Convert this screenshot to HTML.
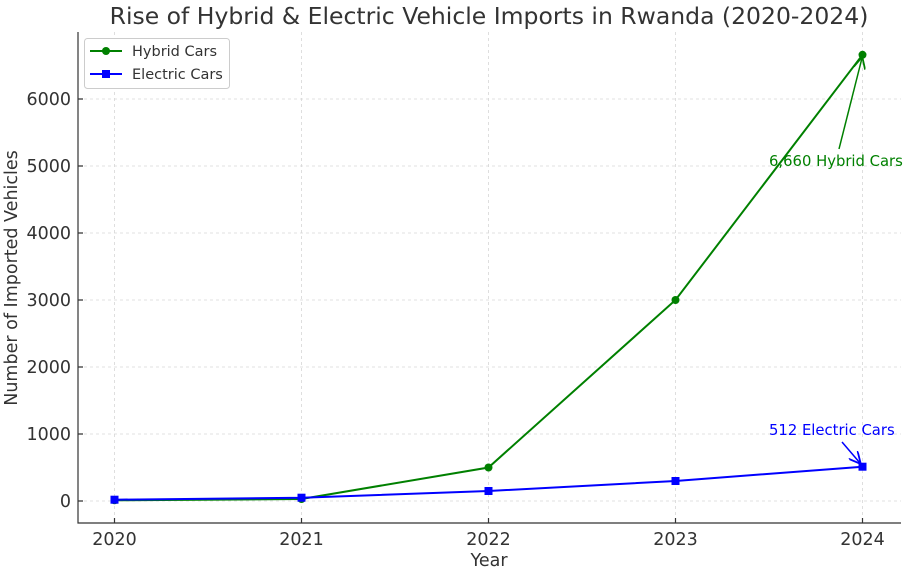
<!DOCTYPE html>
<html><head><meta charset="utf-8"><style>
body{margin:0;background:#fff}
svg{display:block;font-family:"DejaVu Sans","Liberation Sans",sans-serif}
</style></head><body>
<svg width="903" height="567" viewBox="0 0 903 567">
<defs>
<marker id="ag" viewBox="0 0 10 10" refX="9" refY="5" markerWidth="8" markerHeight="8" orient="auto"><path d="M0,0 L10,5 L0,10" fill="none" stroke="green" stroke-width="1.5"/></marker>
<marker id="ab" viewBox="0 0 10 10" refX="9" refY="5" markerWidth="8" markerHeight="8" orient="auto"><path d="M0,0 L10,5 L0,10" fill="none" stroke="blue" stroke-width="1.5"/></marker>
</defs>
<text x="489" y="24" font-size="23.5" text-anchor="middle" fill="#333">Rise of Hybrid &amp; Electric Vehicle Imports in Rwanda (2020-2024)</text>
<g stroke="#d6d6d6" stroke-width="0.8" stroke-dasharray="3,3">
<line x1="114.5" y1="32" x2="114.5" y2="523"/><line x1="301.5" y1="32" x2="301.5" y2="523"/><line x1="488.5" y1="32" x2="488.5" y2="523"/><line x1="675.5" y1="32" x2="675.5" y2="523"/><line x1="862.5" y1="32" x2="862.5" y2="523"/>
<line x1="78" y1="501" x2="901" y2="501"/><line x1="78" y1="434" x2="901" y2="434"/><line x1="78" y1="367" x2="901" y2="367"/><line x1="78" y1="300" x2="901" y2="300"/><line x1="78" y1="233" x2="901" y2="233"/><line x1="78" y1="166" x2="901" y2="166"/><line x1="78" y1="99" x2="901" y2="99"/>
</g>
<g stroke="#333" stroke-width="1.2" fill="none">
<path d="M78,32 V523 H901"/>
<path d="M114.5,523v-5M301.5,523v-5M488.5,523v-5M675.5,523v-5M862.5,523v-5"/>
<path d="M78,501h5M78,434h5M78,367h5M78,300h5M78,233h5M78,166h5M78,99h5"/>
</g>
<g font-size="17.5" fill="#333" text-anchor="middle">
<text x="114.5" y="545">2020</text><text x="301.5" y="545">2021</text><text x="488.5" y="545">2022</text><text x="675.5" y="545">2023</text><text x="862.5" y="545">2024</text>
<text x="489" y="566">Year</text>
</g>
<g font-size="17.5" fill="#333" text-anchor="end">
<text x="71" y="507">0</text><text x="71" y="440">1000</text><text x="71" y="373">2000</text><text x="71" y="306">3000</text><text x="71" y="239">4000</text><text x="71" y="172">5000</text><text x="71" y="105">6000</text>
</g>
<text transform="translate(17,278) rotate(-90)" font-size="17.5" fill="#333" text-anchor="middle">Number of Imported Vehicles</text>
<polyline points="114.5,500.3 301.5,499 488.5,467.5 675.5,300 862.5,54.8" fill="none" stroke="green" stroke-width="2"/>
<g fill="green"><circle cx="114.5" cy="500.3" r="4"/><circle cx="301.5" cy="499" r="4"/><circle cx="488.5" cy="467.5" r="4"/><circle cx="675.5" cy="300" r="4"/><circle cx="862.5" cy="54.8" r="4"/></g>
<polyline points="114.5,499.7 301.5,497.7 488.5,491 675.5,481 862.5,466.7" fill="none" stroke="blue" stroke-width="2"/>
<g fill="blue"><rect x="110.5" y="495.7" width="8" height="8"/><rect x="297.5" y="493.7" width="8" height="8"/><rect x="484.5" y="487" width="8" height="8"/><rect x="671.5" y="477" width="8" height="8"/><rect x="858.5" y="462.7" width="8" height="8"/></g>
<line x1="839" y1="149" x2="862" y2="58" stroke="green" stroke-width="1.5" marker-end="url(#ag)"/>
<text x="769" y="166" font-size="14.8" fill="green">6,660 Hybrid Cars</text>
<line x1="842" y1="442" x2="860" y2="463" stroke="blue" stroke-width="1.5" marker-end="url(#ab)"/>
<text x="769" y="435" font-size="14.8" fill="blue">512 Electric Cars</text>
<rect x="84.5" y="38.5" width="145" height="50" rx="3" fill="#fff" stroke="#ccc"/>
<line x1="90" y1="51" x2="122" y2="51" stroke="green" stroke-width="2"/><circle cx="106" cy="51" r="4" fill="green"/>
<line x1="90" y1="74" x2="122" y2="74" stroke="blue" stroke-width="2"/><rect x="102" y="70" width="8" height="8" fill="blue"/>
<text x="132" y="56" font-size="14.5" fill="#333">Hybrid Cars</text>
<text x="132" y="79" font-size="14.5" fill="#333">Electric Cars</text>
</svg>
</body></html>
